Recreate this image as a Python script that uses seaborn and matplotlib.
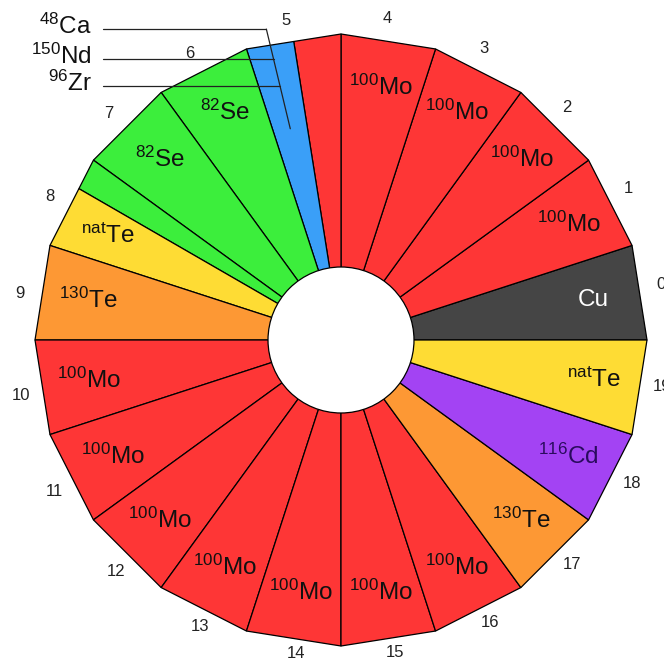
import numpy as np
import matplotlib
matplotlib.use('Agg')
import matplotlib.pyplot as plt
import seaborn as sns

# segments of the 20-sided detector wheel (sector number, share of the sector, source)
seg_sector = [0, 1, 2, 3, 4, 5, 5, 6, 7, 8, 8, 9, 10, 11, 12, 13, 14, 15, 16, 17, 18, 19]
seg_share = [1, 1, 1, 1, 1, 0.5, 0.5, 1, 1, 1 / 3, 2 / 3, 1, 1, 1, 1, 1, 1, 1, 1, 1, 1, 1]
seg_source = ['Cu', '100Mo', '100Mo', '100Mo', '100Mo', '100Mo', 'mix', '82Se', '82Se', '82Se',
              'natTe', '130Te', '100Mo', '100Mo', '100Mo', '100Mo', '100Mo', '100Mo', '100Mo',
              '130Te', '116Cd', 'natTe']
seg_labelled = [1, 1, 1, 1, 1, 0, 0, 1, 1, 0, 1, 1, 1, 1, 1, 1, 1, 1, 1, 1, 1, 1]
mix_sources = ['48Ca', '150Nd', '96Zr']

n_sectors = 20
hole = 73 / 306

colors = {'Cu': '#454545', '100Mo': '#fe3636', 'mix': '#3a9ff8', '82Se': '#3cee3c',
          'natTe': '#fedc34', '130Te': '#fd9834', '116Cd': '#a343f3'}
pretty = {'Cu': 'Cu', '100Mo': r'$^{\mathrm{100}}$Mo', '82Se': r'$^{\mathrm{82}}$Se',
          'natTe': r'$^{\mathrm{nat}}$Te', '130Te': r'$^{\mathrm{130}}$Te',
          '116Cd': r'$^{\mathrm{116}}$Cd', '48Ca': r'$^{\mathrm{48}}$Ca',
          '150Nd': r'$^{\mathrm{150}}$Nd', '96Zr': r'$^{\mathrm{96}}$Zr'}
text_col = {'Cu': 'white', '116Cd': '#2a0b5e'}

sns.set_style('white')
plt.rcParams['font.family'] = ['Liberation Sans', 'DejaVu Sans']
plt.rcParams['mathtext.fontset'] = 'custom'
plt.rcParams['mathtext.rm'] = 'Liberation Sans'
plt.rcParams['mathtext.it'] = 'Liberation Sans:italic'
plt.rcParams['mathtext.bf'] = 'Liberation Sans:bold'

step = 360 / n_sectors


def outer(theta, k):
    # point on the polygon edge of sector k at angle theta (deg)
    mid = step * k + step / 2
    r = np.cos(np.radians(step / 2)) / np.cos(np.radians(theta - mid))
    return r * np.cos(np.radians(theta)), r * np.sin(np.radians(theta))


fig = plt.figure(figsize=(6.64, 6.64), dpi=100)
ax = fig.add_axes([0, 0, 1, 1])

pos = {}
for k, share, src, lab in zip(seg_sector, seg_share, seg_source, seg_labelled):
    start = pos.get(k, 0.0)
    a0 = step * (k + start)
    a1 = step * (k + start + share)
    pos[k] = start + share
    x0, y0 = outer(a0, k)
    x1, y1 = outer(a1, k)
    ax.fill([0, x0, x1], [0, y0, y1], color=colors[src], ec='black', lw=0.9,
            joinstyle='miter')
    am = np.radians((a0 + a1) / 2)
    if lab:
        ax.text(0.835 * np.cos(am), 0.835 * np.sin(am), pretty[src], fontsize=17.5,
                ha='center', va='center', color=text_col.get(src, '#111111'))
    if src == 'mix':
        mix_angle = (a0 + a1) / 2

ax.add_patch(plt.Circle((0, 0), hole, fc='white', ec='black', lw=0.9, zorder=3))

# sector numbers
for k in range(n_sectors):
    a = np.radians(step * k + step / 2 + 0.8)
    r = 1.06 - 0.025 * max(0.0, -np.sin(a)) ** 4
    ax.text(r * np.cos(a), r * np.sin(a), str(k), fontsize=12,
            ha='center', va='center', color='#222222')

# leaders for the small sources
ma = np.radians(mix_angle)
line_y = [1.016, 0.918, 0.830]
x_left = -0.778
for i, (src, y) in enumerate(zip(mix_sources, line_y)):
    xr = y / np.tan(ma)
    ax.plot([x_left, xr], [y, y], color='#222222', lw=0.9)
    if i == 0:
        ax.plot([xr, 0.71 * np.cos(ma)], [y, 0.71 * np.sin(ma)], color='#222222', lw=0.9)
    ax.text(-0.814, y - 0.016, pretty[src], fontsize=17.5, ha='right', va='baseline',
            color='#111111')

ax.set_xlim(-341 / 306, 323 / 306)
ax.set_ylim(-324 / 306, 340 / 306)
ax.set_aspect('equal')
ax.axis('off')

fig.savefig('out.png', dpi=100)
